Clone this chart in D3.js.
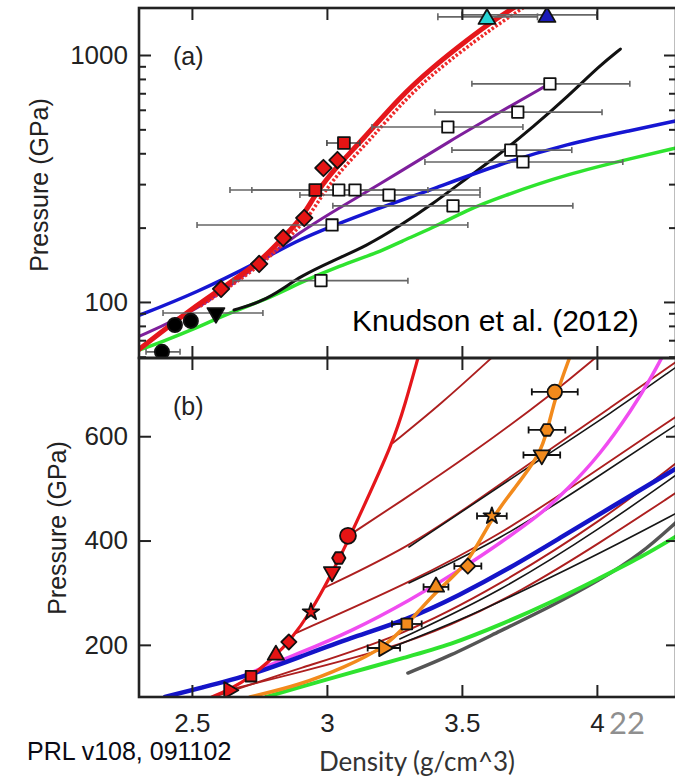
<!DOCTYPE html>
<html>
<head>
<meta charset="utf-8">
<script src="https://cdn.jsdelivr.net/npm/d3@7"></script>
<style>
  html, body { margin: 0; padding: 0; background: #fff; }
  svg { display: block; }
</style>
</head>
<body>
<svg id="chart" width="675" height="778"></svg>
<script>
// ---------------- data : panel (a), density (g/cm^3) vs pressure (GPa), log axis ----------------
const aRed = [[2.290,62.5],[2.377,74.1],[2.489,92],[2.612,114],[2.749,143.8],[2.835,181.4],[2.909,218.8],
  [2.961,278.6],[3.035,352.4],[3.132,452.9],[3.270,676],[3.392,893],[3.519,1150],[3.604,1348],[3.710,1600]];
const aRedDotted = [[2.530,96],[2.633,114],[2.771,145],[2.860,183],[2.934,221],[2.989,279],[3.063,352],
  [3.160,453],[3.297,676],[3.423,893],[3.553,1150],[3.642,1348],[3.745,1600]];
const aPurple = [[2.290,71.5],[2.526,92.8],[2.749,142.5],[2.898,191.9],[3.046,240.5],[3.270,335.5],
  [3.455,448.6],[3.641,587.6],[3.809,748]];
const aBlue = [[2.290,87],[2.515,108.7],[2.760,147.9],[2.887,176.6],[3.011,201.2],[3.196,240.3],
  [3.392,286.4],[3.641,362.2],[3.890,436.8],[4.136,497],[4.300,543]];
const aBlack = [[2.656,92.8],[2.757,100],[2.842,113.9],[2.898,126.3],[3.020,146.6],[3.147,168.6],
  [3.270,203.2],[3.392,249.4],[3.519,317.8],[3.641,397.2],[3.764,511.9],[3.890,676],[4.013,911],[4.087,1057]];
const aGreen = [[2.290,63],[2.388,68.9],[2.526,79.2],[2.638,90.2],[2.797,104.8],[2.898,119.4],[3.046,139.9],
  [3.195,159.3],[3.270,175],[3.392,199.4],[3.519,235.6],[3.641,266],[3.890,329.6],[4.136,383],[4.300,422]];

// red shock points: density, pressure, marker
const aRedShots = [[2.608,112.9,'diamond'],[2.749,142.5,'diamond'],[2.838,181.6,'diamond'],[2.916,218.8,'diamond'],
  [2.957,283.9,'square'],[2.987,348.7,'diamond'],[3.039,375.6,'diamond'],[3.063,440.4,'square']];
const aRedShotErr = [[3.063,440.4,3.000,3.122]];
// open squares: density, pressure, error-bar low, error-bar high
const aOpenSquares = [[3.826,764,3.537,4.122],[3.707,587,3.400,4.019],[3.448,511,3.167,3.726],
  [3.681,412,3.463,3.907],[3.726,369,3.363,4.096],[3.044,284,2.641,3.374],[3.104,284,2.722,3.567],
  [3.230,271,2.900,3.567],[3.467,245,3.022,3.911],[3.019,205,2.519,3.522],[2.978,122,2.652,3.300]];
const aBlackCircles = [[2.437,80.7],[2.496,83.8],[2.389,62.8]];
const aBlackCircleErr = [[2.389,62.8,2.330,2.456]];
const aBlackTriangle = [[2.589,90.2,2.393,2.763]];
const aTopTriangles = [[3.593,1399,3.411,3.780,'#27d3d3'],[3.815,1425,3.500,4.000,'#1a1ab8']];

// ---------------- data : panel (b), linear pressure axis ----------------
const bRed = [[2.574,100],[2.637,113.4],[2.719,138.3],[2.811,180.5],[2.859,205.5],[2.941,263],[3.019,337.8],
  [3.074,395.3],[3.122,449],[3.244,587],[3.289,660],[3.340,755]];
const bOrange = [[2.715,100],[2.900,123],[3.067,157.5],[3.211,194],[3.296,238],[3.407,305],[3.522,353],
  [3.604,439],[3.696,501],[3.789,564],[3.819,616],[3.848,679],[3.902,755]];
const bBlue = [[2.400,100],[2.530,117.3],[2.719,142.2],[2.900,176.7],[3.085,213.1],[3.296,247.6],
  [3.493,295.6],[3.678,347.3],[3.863,404.9],[4.048,462.4],[4.300,540]];
const bPink = [[2.678,138.3],[2.900,184.4],[3.085,224.6],[3.304,284],[3.522,353],[3.641,395.3],[3.789,449],
  [3.889,497],[4.011,564],[4.133,654],[4.196,707.8],[4.250,760]];
const bGreen = [[2.774,100],[2.900,119.2],[3.085,146],[3.296,176.7],[3.456,199.7],[3.641,238],[3.826,280.2],
  [4.011,328.2],[4.159,366.5],[4.300,410]];
const bGray = [[3.300,146],[3.456,178.6],[3.641,226.5],[3.826,272.6],[4.011,324.3],[4.159,372.3],[4.300,438]];

// reshock paths leaving the principal Hugoniot
const bReshock = [
  [[3.244,587],[3.419,660],[3.620,755]],
  [[3.078,408.7],[3.270,473.9],[3.530,564],[3.844,684.8],[4.005,755]],
  [[2.989,309],[3.304,387.6],[3.548,473.9],[3.796,564],[4.048,654.1],[4.300,745]],
  [[2.885,222.7],[3.304,318.6],[3.641,410.6],[3.974,525.7],[4.300,640]],
  [[2.581,100],[2.900,155.6],[3.270,215],[3.641,314.7],[4.022,439.4],[4.300,551]],
  [[2.637,113.4],[2.900,148],[3.215,190.1],[3.456,236.1],[3.715,301.3],[4.011,395.3],[4.300,494]]
];
const bModel = [
  [[3.304,387.6],[3.548,472],[3.796,558],[4.048,642.6],[4.300,735]],
  [[3.304,318.6],[3.641,401],[3.974,512.2],[4.300,624]],
  [[3.270,211.2],[3.641,301.3],[4.022,426],[4.300,528]],
  [[3.215,190.1],[3.541,257.2],[3.826,328.2],[4.085,395.3],[4.300,454]]
];

// shot symbols shared by the two marker series below
const shotSymbols = ['right','square','up','diamond','star','down','hexagon','circle'];
const bRedShots = [[2.637,113],[2.719,140],[2.811,180.5],[2.859,205.5],[2.941,263],[3.019,340],[3.044,366.5],[3.078,409]];
// density, pressure, half-width of the density error bar
const bOrangeShots = [[3.211,194,0.060],[3.296,240,0.055],[3.404,311,0.046],[3.522,351,0.050],
  [3.611,447,0.055],[3.796,564,0.068],[3.815,612,0.068],[3.844,685,0.085]];

const xTicks = [2.5, 3, 3.5, 4];
const aMajorTicks = [100, 1000];
const aMinorTicks = [60, 70, 80, 90, 200, 300, 400, 500, 600, 700, 800, 900];
const bTicks = [200, 400, 600];

// ---------------- layout ----------------
const svg = d3.select('#chart');
const FONT = '"Liberation Sans", Arial, Helvetica, sans-serif';
const HUMAN = 'Lato, "Open Sans", sans-serif';
const L = 139, R = 676, TOP = 8, MID = 358, BOT = 697;

const x = d3.scaleLinear().domain([2.304, 4.293]).range([L, R]);
const yA = d3.scaleLog().domain([59.3, 1550]).range([MID, TOP]);
const yB = d3.scaleLinear().domain([100, 750]).range([BOT, MID]);

const defs = svg.append('defs');
defs.append('clipPath').attr('id', 'clipA').append('rect')
  .attr('x', L).attr('y', TOP).attr('width', R - L).attr('height', MID - TOP);
defs.append('clipPath').attr('id', 'clipB').append('rect')
  .attr('x', L).attr('y', MID).attr('width', R - L).attr('height', BOT - MID);

const gA = svg.append('g').attr('clip-path', 'url(#clipA)');
const gB = svg.append('g').attr('clip-path', 'url(#clipB)');

function drawCurve(g, data, y, color, width, dash) {
  const line = d3.line().x(d => x(d[0])).y(d => y(d[1])).curve(d3.curveBasis);
  const p = g.append('path').datum(data).attr('d', line)
    .attr('fill', 'none').attr('stroke', color).attr('stroke-width', width)
    .attr('stroke-linecap', 'round').attr('stroke-linejoin', 'round');
  if (dash) p.attr('stroke-dasharray', dash).attr('stroke-linecap', 'butt');
  return p;
}

function xErr(g, y, p, lo, hi, color, width, cap) {
  const yy = y(p);
  g.append('line').attr('x1', x(lo)).attr('x2', x(hi)).attr('y1', yy).attr('y2', yy)
    .attr('stroke', color).attr('stroke-width', width);
  [lo, hi].forEach(v => g.append('line').attr('x1', x(v)).attr('x2', x(v))
    .attr('y1', yy - cap).attr('y2', yy + cap).attr('stroke', color).attr('stroke-width', width));
}

const hexagon = {
  draw(ctx, size) {
    const r = Math.sqrt(size / (1.5 * Math.sqrt(3)));
    for (let i = 0; i < 6; i++) {
      const a = Math.PI / 3 * i;
      const px = r * Math.cos(a), py = r * Math.sin(a);
      if (i === 0) ctx.moveTo(px, py); else ctx.lineTo(px, py);
    }
    ctx.closePath();
  }
};
const symbolTypes = {
  circle: [d3.symbolCircle, 0], square: [d3.symbolSquare, 0], diamond: [d3.symbolSquare, 45],
  up: [d3.symbolTriangle, 0], down: [d3.symbolTriangle, 180], right: [d3.symbolTriangle, 90],
  star: [d3.symbolStar, 0], hexagon: [hexagon, 0]
};
function marker(g, px, py, name, area, fill) {
  const [type, rot] = symbolTypes[name];
  g.append('path').attr('d', d3.symbol(type, area)())
    .attr('transform', `translate(${px},${py}) rotate(${rot})`)
    .attr('fill', fill).attr('stroke', '#111').attr('stroke-width', 1.8)
    .attr('stroke-linejoin', 'round');
}
// symbol area used for each shot type in panel (b)
function shotArea(s, circleArea) {
  if (s === 'circle') return circleArea;
  if (s === 'star') return 85;
  return 115;
}

// ---------------- panel (a) ----------------
drawCurve(gA, aGreen, yA, '#2fe32f', 3.5);
drawCurve(gA, aBlack, yA, '#111', 3);
drawCurve(gA, aBlue, yA, '#1616d2', 3.5);
drawCurve(gA, aPurple, yA, '#7e1f9c', 3);
drawCurve(gA, aRedDotted, yA, '#ee2a2a', 3.5, '2.5,2');
drawCurve(gA, aRed, yA, '#e5161b', 5);

aOpenSquares.forEach(d => xErr(gA, yA, d[1], d[2], d[3], '#666', 1.6, 3));
aRedShotErr.forEach(d => xErr(gA, yA, d[1], d[2], d[3], '#444', 1.6, 3));
aBlackTriangle.forEach(d => xErr(gA, yA, d[1], d[2], d[3], '#666', 1.6, 3));
aBlackCircleErr.forEach(d => xErr(gA, yA, d[1], d[2], d[3], '#666', 1.6, 3));
aTopTriangles.forEach(d => xErr(gA, yA, d[1] * 1.02, d[2], d[3], '#666', 1.6, 3.5));

aOpenSquares.forEach(d => marker(gA, x(d[0]), yA(d[1]), 'square', 130, '#fff'));
aRedShots.forEach(d => marker(gA, x(d[0]), yA(d[1]), d[2], d[2] === 'square' ? 140 : 135, '#e51414'));
aBlackCircles.forEach(d => marker(gA, x(d[0]), yA(d[1]), 'circle', 160, '#000'));
aBlackTriangle.forEach(d => marker(gA, x(d[0]), yA(d[1]), 'down', 125, '#000'));
aTopTriangles.forEach(d => marker(gA, x(d[0]), yA(d[1]), 'up', 125, d[4]));

// ---------------- panel (b) ----------------
bReshock.forEach(path => drawCurve(gB, path, yB, '#ad1f1f', 1.9));
bModel.forEach(path => drawCurve(gB, path, yB, '#161616', 1.6));
drawCurve(gB, bGray, yB, '#555', 3.5);
drawCurve(gB, bGreen, yB, '#2fe32f', 4);
drawCurve(gB, bPink, yB, '#f04cf0', 3.5);
drawCurve(gB, bBlue, yB, '#1414c8', 4.5);
drawCurve(gB, bOrange, yB, '#f28a1c', 3.5);
drawCurve(gB, bRed, yB, '#e5161b', 3.2);

bOrangeShots.forEach(d => xErr(gB, yB, d[1], d[0] - d[2], d[0] + d[2], '#111', 1.8, 3.5));
bRedShots.forEach((d, i) => {
  const s = shotSymbols[i];
  marker(gB, x(d[0]), yB(d[1]), s, shotArea(s, 200), '#e51414');
});
bOrangeShots.forEach((d, i) => {
  const s = shotSymbols[i];
  marker(gB, x(d[0]), yB(d[1]), s, shotArea(s, 165), '#f28a1c');
});

// ---------------- axes ----------------
function styleAxis(sel) {
  sel.select('.domain').remove();
  sel.selectAll('.tick line').attr('stroke', '#222').attr('stroke-width', 2);
  sel.selectAll('.tick text').attr('fill', '#222')
    .style('font-family', FONT).style('font-size', '26px');
}
const noLabel = () => '';

// panel (a) left / right
svg.append('g').attr('transform', `translate(${L},0)`)
  .call(d3.axisLeft(yA).tickValues(aMajorTicks).tickFormat(d3.format('d'))
    .tickSizeInner(-12).tickSizeOuter(0).tickPadding(11)).call(styleAxis);
svg.append('g').attr('transform', `translate(${L},0)`)
  .call(d3.axisLeft(yA).tickValues(aMinorTicks).tickFormat(noLabel)
    .tickSizeInner(-7).tickSizeOuter(0)).call(styleAxis);
svg.append('g').attr('transform', `translate(${R},0)`)
  .call(d3.axisRight(yA).tickValues(aMajorTicks).tickFormat(noLabel)
    .tickSizeInner(-12).tickSizeOuter(0)).call(styleAxis);
svg.append('g').attr('transform', `translate(${R},0)`)
  .call(d3.axisRight(yA).tickValues(aMinorTicks).tickFormat(noLabel)
    .tickSizeInner(-7).tickSizeOuter(0)).call(styleAxis);
// panel (a) top / bottom
svg.append('g').attr('transform', `translate(0,${TOP})`)
  .call(d3.axisTop(x).tickValues(xTicks).tickFormat(noLabel).tickSizeInner(-12).tickSizeOuter(0)).call(styleAxis);
svg.append('g').attr('transform', `translate(0,${MID})`)
  .call(d3.axisBottom(x).tickValues(xTicks).tickFormat(noLabel).tickSizeInner(-12).tickSizeOuter(0)).call(styleAxis);
// panel (b)
svg.append('g').attr('transform', `translate(0,${MID})`)
  .call(d3.axisTop(x).tickValues(xTicks).tickFormat(noLabel).tickSizeInner(-12).tickSizeOuter(0)).call(styleAxis);
svg.append('g').attr('transform', `translate(0,${BOT})`)
  .call(d3.axisBottom(x).tickValues(xTicks).tickFormat(d3.format('~g'))
    .tickSizeInner(-12).tickSizeOuter(0).tickPadding(17)).call(styleAxis);
svg.append('g').attr('transform', `translate(${L},0)`)
  .call(d3.axisLeft(yB).tickValues(bTicks).tickSizeInner(-12).tickSizeOuter(0).tickPadding(11)).call(styleAxis);
svg.append('g').attr('transform', `translate(${R},0)`)
  .call(d3.axisRight(yB).tickValues(bTicks).tickFormat(noLabel).tickSizeInner(-10).tickSizeOuter(0)).call(styleAxis);

// frames
[[TOP, MID], [MID, BOT]].forEach(([t, b]) => {
  svg.append('rect').attr('x', L).attr('y', t).attr('width', R - L).attr('height', b - t)
    .attr('fill', 'none').attr('stroke', '#222').attr('stroke-width', 2.6);
});

// ---------------- text ----------------
function label(txt, px, py, opts = {}) {
  const t = svg.append('text').attr('x', px).attr('y', py).text(txt)
    .style('font-family', opts.font || FONT).style('font-size', (opts.size || 25) + 'px')
    .attr('fill', opts.color || '#222').attr('text-anchor', opts.anchor || 'start');
  if (opts.rotate) t.attr('transform', `rotate(${opts.rotate},${px},${py})`);
  return t;
}
label('(a)', 173, 65);
label('(b)', 173, 415);
label('Knudson et al. (2012)', 352, 331, { size: 30, color: '#000' });
label('Pressure (GPa)', 48, 185, { anchor: 'middle', rotate: -90 });
label('Pressure (GPa)', 66, 528, { anchor: 'middle', rotate: -90 });
label('Density (g/cm^3)', 417, 771, { anchor: 'middle', font: HUMAN, size: 26, color: '#333' });
label('22', 609, 734, { font: HUMAN, size: 31, color: '#8f8f8f' });
label('PRL v108, 091102', 27, 760, { size: 25, color: '#0a0a14' });
</script>
</body>
</html>
